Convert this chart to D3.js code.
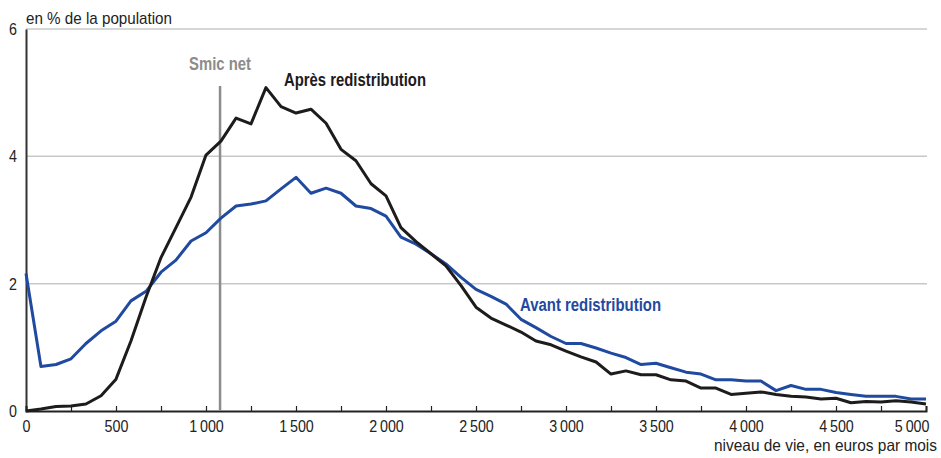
<!DOCTYPE html>
<html>
<head>
<meta charset="utf-8">
<script src="https://cdn.jsdelivr.net/npm/d3@7"></script>
<style>
  body { margin: 0; background: #fff; }
  svg text { font-family: "Liberation Sans", Arial, sans-serif; }
</style>
</head>
<body>
<div id="chart"></div>
<script>
// niveau de vie (euros par mois), tranches de ~83 euros
var niveaux = [0, 83, 167, 250, 333, 417, 500, 583, 667, 750, 833, 917, 1000,
    1083, 1167, 1250, 1333, 1417, 1500, 1583, 1667, 1750, 1833, 1917, 2000,
    2083, 2167, 2250, 2333, 2417, 2500, 2583, 2667, 2750, 2833, 2917, 3000,
    3083, 3167, 3250, 3333, 3417, 3500, 3583, 3667, 3750, 3833, 3917, 4000,
    4083, 4167, 4250, 4333, 4417, 4500, 4583, 4667, 4750, 4833, 4917, 5000];

// en % de la population
var apres = [0.00, 0.03, 0.07, 0.08, 0.11, 0.24, 0.50, 1.10, 1.79, 2.41, 2.88, 3.36, 4.02,
    4.24, 4.60, 4.51, 5.08, 4.78, 4.68, 4.74, 4.52, 4.11, 3.93, 3.57, 3.38,
    2.88, 2.66, 2.47, 2.28, 1.97, 1.63, 1.46, 1.35, 1.24, 1.10, 1.04, 0.94,
    0.85, 0.77, 0.58, 0.63, 0.57, 0.57, 0.49, 0.47, 0.36, 0.36, 0.26, 0.28,
    0.30, 0.26, 0.23, 0.22, 0.19, 0.20, 0.13, 0.15, 0.14, 0.16, 0.14, 0.11];

var avant = [2.16, 0.70, 0.73, 0.82, 1.06, 1.26, 1.41, 1.73, 1.88, 2.18, 2.37, 2.67, 2.80,
    3.03, 3.22, 3.25, 3.30, 3.49, 3.67, 3.42, 3.50, 3.42, 3.22, 3.18, 3.06,
    2.73, 2.62, 2.47, 2.31, 2.10, 1.91, 1.80, 1.68, 1.44, 1.31, 1.17, 1.06,
    1.06, 0.99, 0.91, 0.84, 0.73, 0.75, 0.68, 0.61, 0.58, 0.49, 0.49, 0.47,
    0.47, 0.32, 0.40, 0.34, 0.34, 0.29, 0.26, 0.23, 0.23, 0.23, 0.19, 0.19];

var smicNet = 1078;
var xTicks = [0, 500, 1000, 1500, 2000, 2500, 3000, 3500, 4000, 4500, 5000];
var yTicks = [0, 2, 4, 6];

var width = 941,
    height = 458,
    margin_left = 26,
    margin_right = 15,
    margin_top = 29,
    margin_bottom = 47,
    narrow = 0.84; // condensed look of the original typeface

var frFormat = function(d) {
    return d3.format(",")(d).replace(/,/g, "\u2009");
};

// squeeze text horizontally, either by a factor or to a given width
var condense = function(sel, target) {
    sel.each(function() {
        var w = this.getComputedTextLength();
        if (w > 0) {
            d3.select(this)
                .attr("textLength", target ? target : w * narrow)
                .attr("lengthAdjust", "spacingAndGlyphs");
        }
    });
};

var svg = d3.select("#chart").append("svg")
    .attr("width", width)
    .attr("height", height);

var x = d3.scaleLinear()
    .domain([0, 5000])
    .range([margin_left, width - margin_right]);
var y = d3.scaleLinear()
    .domain([0, 6])
    .range([height - margin_bottom, margin_top]);

// gridlines
svg.append("g")
    .attr("id", "grid")
    .selectAll("line")
    .data(yTicks.filter(function(d) { return d > 0; }))
    .enter().append("line")
        .attr("x1", x(0))
        .attr("x2", x(5000) + 1)
        .attr("y1", function(d) { return y(d); })
        .attr("y2", function(d) { return y(d); })
        .attr("stroke", "#c8c8c8")
        .attr("stroke-width", 1.5);

// y axis
var yAxis = d3.axisLeft(y)
    .tickValues(yTicks)
    .tickSize(0)
    .tickPadding(9)
    .tickFormat(d3.format("d"));
var gy = svg.append("g")
    .attr("id", "y-axis")
    .attr("transform", "translate(" + x(0) + ",0)")
    .call(yAxis);
gy.select(".domain").attr("stroke", "#333").attr("stroke-width", 2);
gy.selectAll("text")
    .attr("font-size", 17)
    .attr("font-family", "Liberation Sans, Arial, sans-serif")
    .attr("fill", "#222");
condense(gy.selectAll("text"));

// x axis
var xAxis = d3.axisBottom(x)
    .tickValues(d3.range(0, 5001, 250))
    .tickSize(-5)
    .tickPadding(9)
    .tickFormat(function(d) { return xTicks.indexOf(d) >= 0 ? frFormat(d) : ""; });
var gx = svg.append("g")
    .attr("id", "x-axis")
    .attr("transform", "translate(0," + y(0) + ")")
    .call(xAxis);
gx.select(".domain").attr("stroke", "#222").attr("stroke-width", 2);
gx.selectAll(".tick line").attr("stroke", "#222").attr("stroke-width", 1.2);
gx.selectAll("text")
    .attr("font-size", 17)
    .attr("font-family", "Liberation Sans, Arial, sans-serif")
    .attr("fill", "#222");
// the last label is kept inside the frame
gx.selectAll(".tick").filter(function(d) { return d === 5000; })
    .select("text")
        .attr("text-anchor", "end")
        .attr("x", 3);
condense(gx.selectAll("text"));

// Smic net
svg.append("line")
    .attr("x1", x(smicNet))
    .attr("x2", x(smicNet))
    .attr("y1", 86)
    .attr("y2", y(0))
    .attr("stroke", "#8c8c8c")
    .attr("stroke-width", 2.5);
svg.append("text")
    .attr("x", x(smicNet))
    .attr("y", 70)
    .attr("text-anchor", "middle")
    .attr("font-size", 17.5)
    .attr("font-weight", "bold")
    .attr("fill", "#8c8c8c")
    .text("Smic net")
    .call(condense, 62);

// curves
var line = function(values) {
    return d3.line()
        .x(function(d, i) { return x(niveaux[i]); })
        .y(function(d) { return y(d); })(values);
};
svg.append("path")
    .attr("d", line(avant))
    .attr("fill", "none")
    .attr("stroke", "#1f4aa0")
    .attr("stroke-width", 3)
    .attr("stroke-linejoin", "round");
svg.append("path")
    .attr("d", line(apres))
    .attr("fill", "none")
    .attr("stroke", "#1e1b1c")
    .attr("stroke-width", 3)
    .attr("stroke-linejoin", "round");

// labels
svg.append("text")
    .attr("x", 284)
    .attr("y", 86)
    .attr("font-size", 17.5)
    .attr("font-weight", "bold")
    .attr("fill", "#1e1b1c")
    .text("Après redistribution")
    .call(condense, 142);
svg.append("text")
    .attr("x", 520)
    .attr("y", 311)
    .attr("font-size", 17.5)
    .attr("font-weight", "bold")
    .attr("fill", "#1f4aa0")
    .text("Avant redistribution")
    .call(condense, 141);
svg.append("text")
    .attr("x", x(0))
    .attr("y", 24)
    .attr("font-size", 17)
    .attr("fill", "#222")
    .text("en % de la population")
    .call(condense, 146);
svg.append("text")
    .attr("x", 937)
    .attr("y", 451)
    .attr("text-anchor", "end")
    .attr("font-size", 16.5)
    .attr("fill", "#222")
    .text("niveau de vie, en euros par mois")
    .call(condense, 223);
</script>
</body>
</html>
